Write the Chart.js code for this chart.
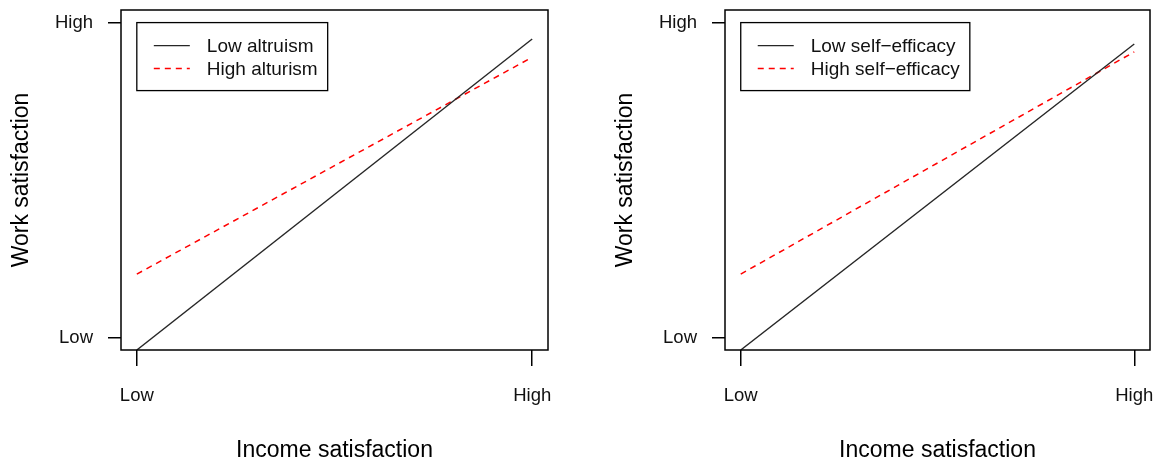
<!DOCTYPE html>
<html>
<head>
<meta charset="utf-8">
<script src="https://cdn.jsdelivr.net/npm/chart.js@4/dist/chart.umd.min.js"></script>
<style>
  body { margin: 0; background: #fff; }
  canvas { position: absolute; top: 0; }
  #left { left: 0; }
  #right { left: 604px; }
</style>
</head>
<body>
<canvas id="left" width="580" height="469"></canvas>
<canvas id="right" width="556" height="469"></canvas>
<script>
// x positions: income satisfaction (Low = 0, High = 1)
const xLevels = [0, 1];
const levelNames = ['Low', 'High'];

// work satisfaction (Low = 0, High = 1)
const altruismLow = [-0.04, 0.948];
const altruismHigh = [0.201, 0.890];
const efficacyLow = [-0.04, 0.932];
const efficacyHigh = [0.201, 0.907];

const xTitle = 'Income satisfaction';
const yTitle = 'Work satisfaction';

const FONT = 'Liberation Sans, Arial, sans-serif';

function points(ys) {
  return xLevels.map((x, i) => ({ x: x, y: ys[i] }));
}

// plot frame, like R's box()
const boxPlugin = {
  id: 'box',
  afterDatasetsDraw(chart) {
    const a = chart.chartArea;
    const ctx = chart.ctx;
    ctx.save();
    ctx.strokeStyle = '#000';
    ctx.lineWidth = 1.5;
    ctx.strokeRect(a.left, a.top, a.right - a.left, a.bottom - a.top);
    ctx.restore();
  }
};

// boxed legend anchored at (Low, High)
const legendBox = {
  id: 'legendBox',
  afterDraw(chart) {
    const ctx = chart.ctx;
    const x0 = chart.scales.x.getPixelForValue(0);
    const y0 = chart.scales.y.getPixelForValue(1);
    const sets = chart.data.datasets;
    ctx.save();
    ctx.font = '19px ' + FONT;
    let tw = 0;
    sets.forEach(d => { tw = Math.max(tw, ctx.measureText(d.label).width); });
    const textX = x0 + 70;
    const w = textX + tw + 10 - x0;
    const h = 68;
    ctx.fillStyle = '#fff';
    ctx.fillRect(x0, y0, w, h);
    ctx.strokeStyle = '#000';
    ctx.lineWidth = 1.3;
    ctx.strokeRect(x0, y0, w, h);
    sets.forEach((d, i) => {
      const yy = y0 + 23 + i * 23;
      ctx.beginPath();
      ctx.setLineDash(d.borderDash || []);
      ctx.strokeStyle = d.borderColor;
      ctx.lineWidth = d.borderWidth;
      ctx.moveTo(x0 + 17, yy);
      ctx.lineTo(x0 + 53, yy);
      ctx.stroke();
      ctx.setLineDash([]);
      ctx.fillStyle = '#111';
      ctx.textBaseline = 'middle';
      ctx.textAlign = 'left';
      ctx.fillText(d.label, textX, yy + 1);
    });
    ctx.restore();
  }
};

function makePanel(id, labels, lowVals, highVals, rightPad) {
  const ticksAt = s => { s.ticks = xLevels.map(v => ({ value: v })); };
  const tickName = v => levelNames[xLevels.indexOf(v)];
  new Chart(document.getElementById(id), {
    type: 'line',
    data: {
      datasets: [
        {
          label: labels[0],
          data: points(lowVals),
          borderColor: '#262626',
          borderWidth: 1.4,
          pointRadius: 0,
          fill: false
        },
        {
          label: labels[1],
          data: points(highVals),
          borderColor: '#ff0000',
          borderWidth: 1.5,
          borderDash: [6, 5],
          pointRadius: 0,
          fill: false
        }
      ]
    },
    options: {
      responsive: false,
      animation: false,
      devicePixelRatio: 1,
      layout: { padding: { top: 10, right: rightPad, left: 0, bottom: 0 } },
      plugins: { legend: { display: false }, tooltip: { enabled: false } },
      scales: {
        x: {
          type: 'linear',
          min: -0.04,
          max: 1.04,
          afterBuildTicks: ticksAt,
          afterFit(s) { s.height = 119; s.paddingLeft = 0; s.paddingRight = 0; },
          border: { display: false },
          grid: { drawOnChartArea: false, drawTicks: true, tickLength: 16, color: '#000', lineWidth: 1.5 },
          ticks: { callback: tickName, padding: 19, maxRotation: 0, color: '#111', font: { family: FONT, size: 18.5 } },
          title: { display: true, text: xTitle, color: '#000', padding: { top: 0, bottom: 5 }, font: { family: FONT, size: 23 } }
        },
        y: {
          type: 'linear',
          min: -0.04,
          max: 1.04,
          afterBuildTicks: ticksAt,
          afterFit(s) { s.width = 121; s.paddingTop = 0; s.paddingBottom = 0; },
          border: { display: false },
          grid: { drawOnChartArea: false, drawTicks: true, tickLength: 13, color: '#000', lineWidth: 1.5 },
          ticks: { callback: tickName, padding: 15, color: '#111', font: { family: FONT, size: 18.5 } },
          title: { display: true, text: yTitle, color: '#000', padding: { top: 8, bottom: 0 }, font: { family: FONT, size: 23 } }
        }
      }
    },
    plugins: [boxPlugin, legendBox]
  });
}

makePanel('left', ['Low altruism', 'High alturism'], altruismLow, altruismHigh, 32);
makePanel('right', ['Low self\u2212efficacy', 'High self\u2212efficacy'], efficacyLow, efficacyHigh, 10);
</script>
</body>
</html>
